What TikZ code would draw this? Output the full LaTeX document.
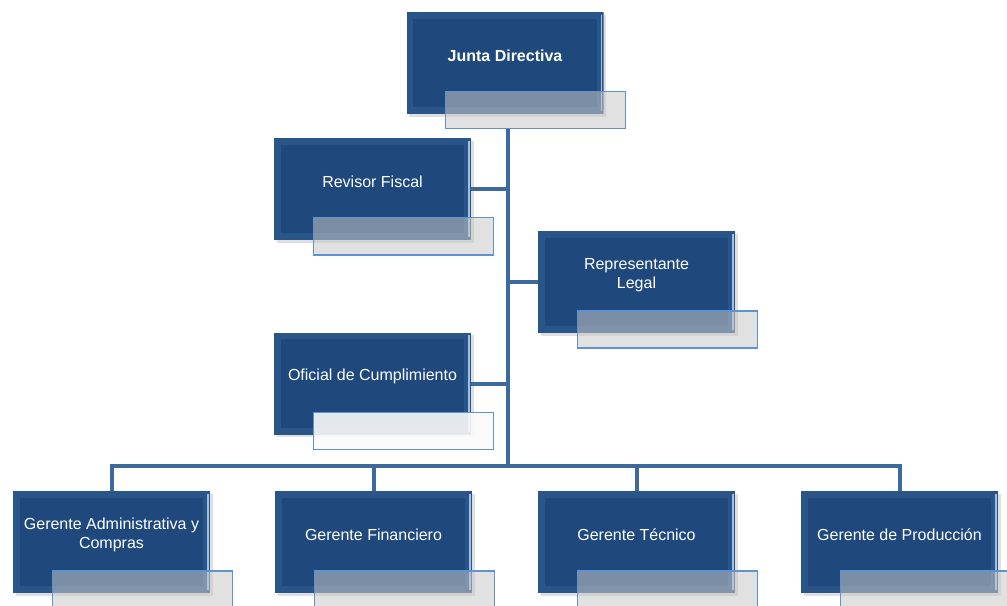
\documentclass[tikz,border=0pt]{standalone}
\usepackage{fontspec}
\setmainfont{Liberation Sans}
\usetikzlibrary{shadows}
\definecolor{boxcore}{HTML}{1F497D}
\definecolor{boxedge}{HTML}{2A5588}
\definecolor{boxlight}{HTML}{9CC0E8}
\definecolor{linkblue}{HTML}{3C6A9C}
\definecolor{tagedge}{HTML}{5E93CF}
\definecolor{taggray}{HTML}{C8C8C8}
\begin{document}
\begin{tikzpicture}[
  x=0.75pt, y=-0.75pt,
  unit/.style={minimum width=147.75pt, minimum height=76.5pt, inner sep=0pt,
    drop shadow={opacity=0.25, shadow xshift=2pt, shadow yshift=-2pt},
    path picture={
      \fill[boxedge] (path picture bounding box.north west) rectangle (path picture bounding box.south east);
      \fill[boxcore] ([xshift=5pt,yshift=-5pt]path picture bounding box.north west) rectangle ([xshift=-5pt,yshift=5pt]path picture bounding box.south east);
      \draw[boxlight, line width=1pt] ([xshift=-1.5pt,yshift=-2pt]path picture bounding box.north east) -- ([xshift=-1.5pt,yshift=2pt]path picture bounding box.south east);
    }},
  caption/.style={text=white, font=\fontsize{12pt}{14.5pt}\selectfont, align=center, yshift=5.25pt},
  tag/.style={draw=tagedge, line width=0.8pt, fill=taggray, fill opacity=0.55,
    minimum width=135pt, minimum height=27.75pt, inner sep=0pt},
  link/.style={draw=linkblue, line width=3pt}
  ]
  \useasboundingbox (0,0) rectangle (1007,606);

  % Nodes
  \node (junta) [unit, label={[caption, font=\bfseries\fontsize{12pt}{14.5pt}\selectfont]center:Junta Directiva}] at (505,63) {};
  \node (revisor) [unit, label={[caption]center:Revisor Fiscal}] at (372.5,189) {};
  \node (legal) [unit, label={[caption]center:Representante\\Legal}] at (636.5,282) {};
  \node (oficial) [unit, label={[caption]center:Oficial de Cumplimiento}] at (372.5,383.5) {};
  \node (gadm) [unit, label={[caption]center:Gerente Administrativa y\\Compras}] at (111.5,542) {};
  \node (gfin) [unit, label={[caption]center:Gerente Financiero}] at (373.5,542) {};
  \node (gtec) [unit, label={[caption]center:Gerente Técnico}] at (636.5,542) {};
  \node (gprod) [unit, label={[caption]center:Gerente de Producción}] at (899.5,542) {};

  % Tags
  \foreach \n in {junta, revisor, legal, gadm, gfin, gtec, gprod}
    \node (\n-tag) [tag] at ([xshift=22.9pt, yshift=-35.6pt]\n.center) {};
  \node (oficial-tag) [tag, fill=white!90!taggray, fill opacity=0.9] at ([xshift=22.9pt, yshift=-35.6pt]oficial.center) {};

  % Connections
  \coordinate (bus) at (508,466);
  \draw[link] (junta-tag.south -| bus) -- (bus);
  \draw[link] (revisor.east) -- (revisor.east -| bus);
  \draw[link] (legal.west) -- (legal.west -| bus);
  \draw[link] (oficial.east) -- (oficial.east -| bus);
  \foreach \n in {gadm, gfin, gtec, gprod}
    \draw[link] (bus) -| (\n.north);

\end{tikzpicture}
\end{document}
